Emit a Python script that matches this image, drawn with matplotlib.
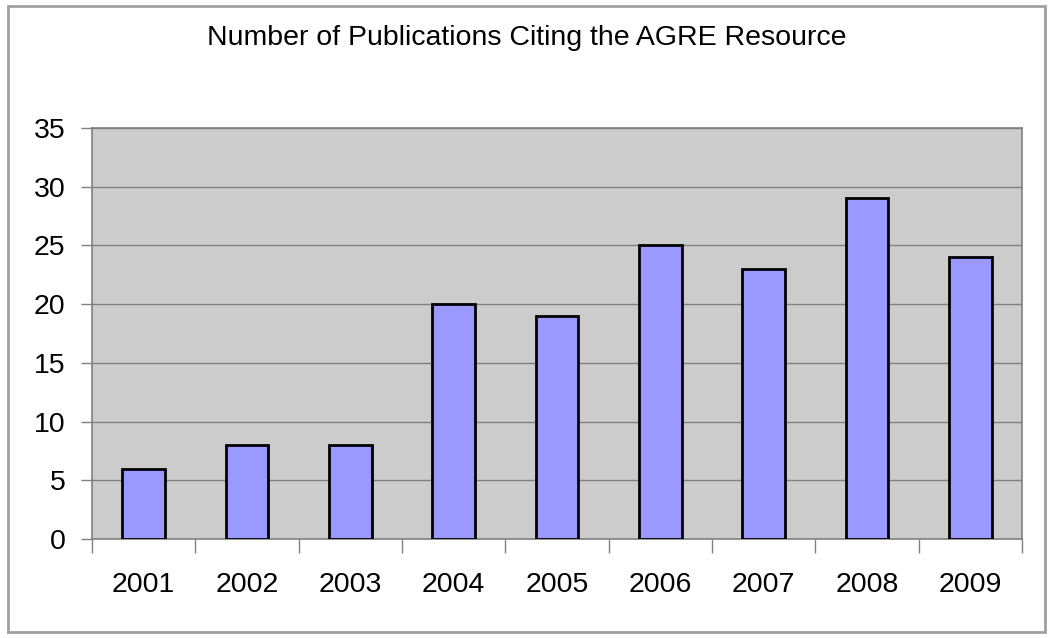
import matplotlib.pyplot as plt
import matplotlib.patches as patches
import numpy as np

plt.rcParams['font.family'] = ['Liberation Sans', 'DejaVu Sans']

years = ["2001", "2002", "2003", "2004", "2005", "2006", "2007", "2008", "2009"]
counts = [6, 8, 8, 20, 19, 25, 23, 29, 24]

fig = plt.figure(figsize=(10.5, 6.38), dpi=100)
ax = fig.add_axes([92/1050, 1 - 539/638, 930/1050, 411/638])

x = np.arange(len(years))
ax.set_facecolor("#CCCCCC")
ax.bar(x, counts, width=0.41, color="#9999FF", edgecolor="black", linewidth=2, zorder=3)

ax.set_ylim(0, 35)
ax.set_yticks(range(0, 36, 5))
ax.set_xlim(-0.5, len(years) - 0.5)
ax.set_xticks(x)
ax.set_xticklabels(years)
ax.set_xticks(np.arange(-0.5, len(years)), minor=True)
ax.tick_params(axis='x', which='major', length=0, labelsize=20.5, pad=24)
ax.tick_params(axis='x', which='minor', length=10, width=1, color="#808080", direction='out')
ax.tick_params(axis='y', length=8, width=1, color="#808080", labelsize=20.5, pad=11)
ax.grid(axis='y', color="#808080", linewidth=1, zorder=1)

for side in ["left", "bottom", "right", "top"]:
    ax.spines[side].set_color("#808080")
    ax.spines[side].set_linewidth(1.2)

fig.text(527/1050, 1 - 38/638, "Number of Publications Citing the AGRE Resource",
         ha='center', va='center', fontsize=20.5)

fig.patches.append(patches.Rectangle((8/1050, 1 - 632/638), 1037/1050, 626/638,
                                     transform=fig.transFigure, fill=False,
                                     edgecolor="#A0A0A0", linewidth=2))

fig.savefig("out.png", dpi=100)
